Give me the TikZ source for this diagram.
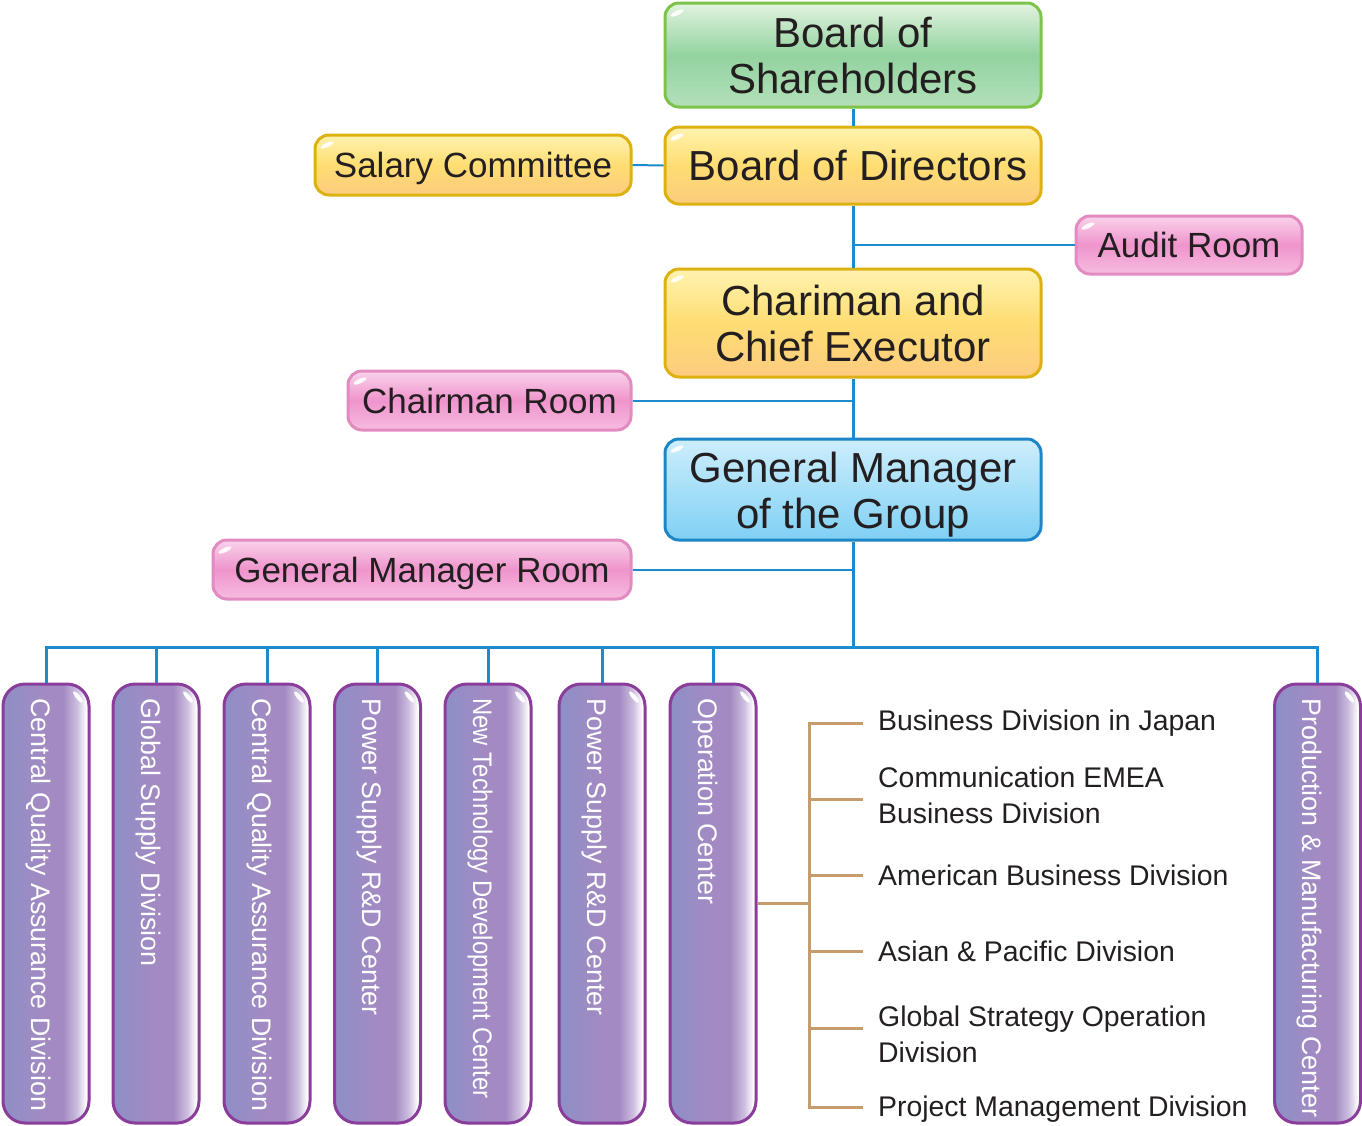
\documentclass[tikz,border=0pt]{standalone}
\usepackage{fontspec}
\usepackage{graphicx}
\setmainfont{Liberation Sans}
\definecolor{txt}{HTML}{231F20}
\definecolor{lblue}{HTML}{1B8BCB}
\definecolor{ltan}{HTML}{C69C6D}
\definecolor{gB}{HTML}{7DC34A}\definecolor{gT}{HTML}{E2F3DF}\definecolor{gM}{HTML}{93D3A0}\definecolor{gL}{HTML}{B3E0BA}
\definecolor{yB}{HTML}{DDB10F}\definecolor{yT}{HTML}{FFF3B0}\definecolor{yM}{HTML}{FEDD72}\definecolor{yL}{HTML}{FDCB80}
\definecolor{kB}{HTML}{E28BC1}\definecolor{kT}{HTML}{F9D3EA}\definecolor{kM}{HTML}{EF94CD}\definecolor{kL}{HTML}{F6BCDF}
\definecolor{bB}{HTML}{1C86C6}\definecolor{bT}{HTML}{CDEEFC}\definecolor{bM}{HTML}{A6DFF8}\definecolor{bL}{HTML}{80D0F4}
\definecolor{pBd}{HTML}{8A3D9B}\definecolor{pA}{HTML}{8E8FC6}\definecolor{pBm}{HTML}{A38AC2}\definecolor{pC}{HTML}{CDBEDF}\definecolor{pD}{HTML}{FFF4CF}
\pgfdeclarehorizontalshading{purpshade}{100bp}{color(0bp)=(pA); color(25bp)=(pA); color(50bp)=(pBm); color(60bp)=(pBm); color(68bp)=(pC); color(73.5bp)=(white); color(74.5bp)=(pD); color(75bp)=(pD); color(100bp)=(pD)}
\newcommand\fBig{\fontsize{42}{46}\selectfont}
\newcommand\fMid{\fontsize{35}{40}\selectfont}
\newcommand\fSml{\fontsize{28.4}{36}\selectfont}
\newcommand\fVer{\fontsize{26.8}{30}\selectfont}
\newcommand\vtext[2][1]{\rotatebox{-90}{\makebox[410pt][l]{\scalebox{#1}[1]{\fVer #2}}}\hspace*{16pt}}
\tikzset{
  hbox/.style={rectangle, rounded corners=14pt, line width=3pt, inner sep=0pt, align=center, text=txt,
    path picture={\fill[white,opacity=.9] ([xshift=12pt,yshift=-10pt]path picture bounding box.north west) ellipse [x radius=7pt, y radius=2.2pt, rotate=25];}},
  gbox/.style={hbox, draw=gB, top color=gT, bottom color=gL, middle color=gM, font=\fBig},
  ybox/.style={hbox, draw=yB, top color=yT, bottom color=yL, middle color=yM},
  kbox/.style={hbox, draw=kB, top color=kT, bottom color=kL, middle color=kM, font=\fMid, text depth=0pt},
  bbox/.style={hbox, draw=bB, top color=bT, bottom color=bL, middle color=bM, font=\fBig},
  vbox/.style={rectangle, rounded corners=22pt, line width=3pt, draw=pBd, shading=purpshade, inner sep=0pt,
    minimum width=86pt, minimum height=439pt, text=white,
    path picture={\fill[white,opacity=.95] ([xshift=-11pt,yshift=-13pt]path picture bounding box.north east) ellipse [x radius=2.2pt, y radius=7pt, rotate=40];}},
  rtext/.style={anchor=west, inner sep=0pt, align=left, text=txt, font=\fSml},
  bline/.style={draw=lblue, line width=3pt},
  sline/.style={draw=lblue, line width=2pt},
  tline/.style={draw=ltan, line width=3pt}
}
\begin{document}
\begin{tikzpicture}[x=1pt,y=-1pt]
\useasboundingbox (0,0) rectangle (1362,1125);
% top chain
\node[gbox, minimum width=376pt, minimum height=104pt] (bs) at (853,55) {Board of\\Shareholders};
\node[ybox, font=\fBig, minimum width=376pt, minimum height=77pt] (bd) at (853,165.5) {\hspace*{10pt}Board of Directors};
\node[ybox, font=\fMid, minimum width=316pt, minimum height=60pt, text depth=0pt] (sc) at (473,165) {Salary Committee};
\node[kbox, minimum width=226pt, minimum height=58pt] (ar) at (1189,245) {Audit Room};
\node[ybox, font=\fBig, minimum width=376pt, minimum height=108pt] (ce) at (853,323) {Chariman and\\Chief Executor};
\node[kbox, minimum width=283pt, minimum height=59pt] (cr) at (489.5,400.5) {Chairman Room};
\node[bbox, minimum width=376pt, minimum height=101pt] (gm) at (853,489.5) {\mbox{}\\[-6pt]General Manager\\of the Group};
\node[kbox, minimum width=418pt, minimum height=59pt] (gr) at (422,569.5) {General Manager Room};
\coordinate (bus) at (853,647);
% connectors
\draw[bline] (bs.south) -- (bd.north);
\draw[bline] (bd.south) -- (ce.north);
\draw[bline] (ce.south) -- (gm.north);
\draw[bline] (gm.south) -- (bus);
\draw[sline] (sc.east) -- (bd.west);
\draw[sline] (ar.west) -- (ar.west -| bd.south);
\draw[sline] (cr.east) -- (cr.east -| ce.south);
\draw[sline] (gr.east) -- (gr.east -| gm.south);
% purple boxes
\node[vbox] (p1) at (46,903.5) {\vtext{Central Quality Assurance Division}};
\node[vbox] (p2) at (156,903.5) {\vtext{Global Supply Division}};
\node[vbox] (p3) at (267,903.5) {\vtext{Central Quality Assurance Division}};
\node[vbox] (p4) at (377.5,903.5) {\vtext{Power Supply R\&D Center}};
\node[vbox] (p5) at (488,903.5) {\vtext[0.89]{New Technology Development Center}};
\node[vbox] (p6) at (602,903.5) {\vtext{Power Supply R\&D Center}};
\node[vbox] (p7) at (713,903.5) {\vtext{Operation Center}};
\node[vbox] (p8) at (1317.5,903.5) {\vtext{Production \& Manufacturing Center}};
\foreach \p in {p1,p2,p3,p4,p5,p6,p7,p8} \draw[bline] (bus) -| (\p.north);
% right list
\node[rtext] (r1) at (878,723) {Business Division in Japan};
\node[rtext] (r2) at (878,795) {Communication EMEA\\Business Division};
\node[rtext] (r3) at (878,875) {American Business Division};
\node[rtext] (r4) at (878,951) {Asian \& Pacific Division};
\node[rtext] (r5) at (878,1034) {Global Strategy Operation\\Division};
\node[rtext] (r6) at (878,1109) {Project Management Division};
\coordinate (trunk) at (809.5,903.5);
\draw[tline] (p7.east) -- (trunk);
\draw[tline] ([xshift=-15pt]r1.west) -- (r1.west -| trunk) -- ([yshift=2pt]r6.west -| trunk) -- ([xshift=-15pt,yshift=2pt]r6.west);
\foreach \r/\dy in {r2/4,r3/0,r4/0,r5/-6} \draw[tline] ([xshift=-15pt,yshift=-\dy pt]\r.west) -- ([yshift=-\dy pt]\r.west -| trunk);
\end{tikzpicture}
\end{document}
